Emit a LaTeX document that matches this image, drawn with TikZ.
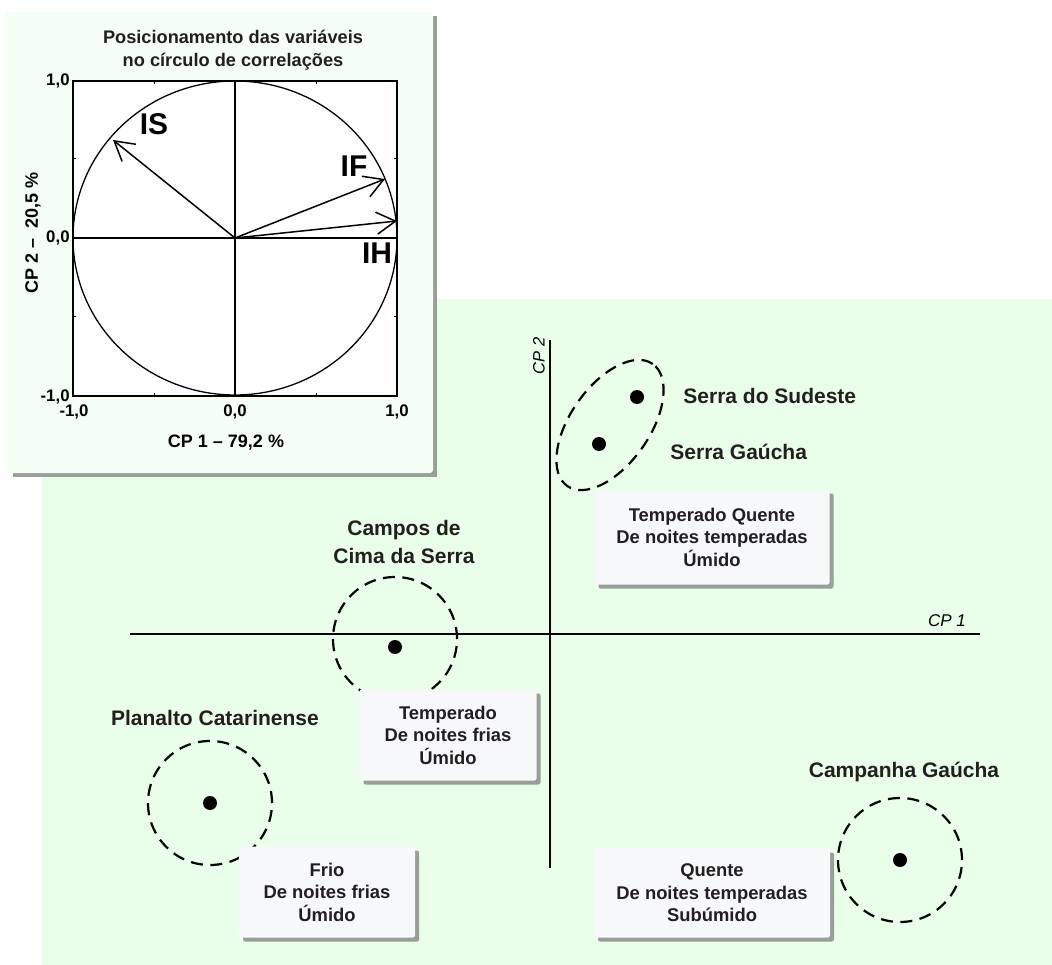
\documentclass[tikz,border=0pt]{standalone}
\usepackage{fontspec}
\setmainfont{Liberation Sans}
\usetikzlibrary{arrows.meta,shapes.geometric,shadows}

\definecolor{panelgreen}{RGB}{234,255,234}
\definecolor{insetgreen}{RGB}{245,255,245}
\definecolor{shadowgray}{RGB}{152,158,152}
\definecolor{boxgray}{RGB}{247,248,250}
\definecolor{inkgray}{RGB}{35,31,32}

\tikzset{
  region/.style={circle,draw,line width=2.2pt,dash pattern=on 12pt off 7.5pt,minimum size=124pt,inner sep=0pt},
  site/.style={circle,fill=black,minimum size=14pt,inner sep=0pt},
  sitename/.style={font=\fontsize{21}{28}\selectfont\bfseries,align=center,text=inkgray,inner sep=0pt},
  climbox/.style={fill=boxgray,rounded corners=2pt,align=center,inner sep=0pt,
    font=\fontsize{18.4}{22.5}\selectfont\bfseries,text=inkgray,
    drop shadow={shadow xshift=4pt,shadow yshift=-4pt,fill=shadowgray,opacity=1}},
  ticklab/.style={font=\fontsize{16.8}{18}\selectfont\bfseries,inner sep=0pt},
  axislab/.style={font=\fontsize{18}{20}\selectfont\bfseries,inner sep=0pt},
  veclab/.style={font=\fontsize{30}{31}\selectfont\bfseries,inner sep=0pt}
}

\begin{document}
\begin{tikzpicture}
    [x=1pt,y=-1pt,>={Straight Barb[length=19pt,width=22pt]},thick]
    \useasboundingbox (0,0) rectangle (1052,965);

    %Panels
    \fill[panelgreen] (42,299) rectangle (1052,965);
    \fill[shadowgray] (13,16) rectangle (437,477);
    \fill[insetgreen,rounded corners=3pt] (6,12) rectangle (433,473);

    %Correlation circle
    \coordinate (O) at (235,238);
    \coordinate (W) at (73,238);
    \coordinate (E) at (397,238);
    \coordinate (N) at (235,81);
    \coordinate (S) at (235,396);
    \coordinate (IS) at (113,140);
    \coordinate (IF) at (385,179);
    \coordinate (IH) at (397,221);

    \fill[white] (73,81) rectangle (397,396);
    \draw[line width=1.3pt] (O) ellipse[x radius=162,y radius=157];
    \draw[line width=1.6pt] (73,81) rectangle (397,396);
    \foreach \tx in {154,316}{
        \draw[line width=1pt] (\tx,81) -- (\tx,84);
        \draw[line width=1pt] (\tx,396) -- (\tx,393);
    }
    \foreach \ty in {159,317}{
        \draw[line width=1pt] (73,\ty) -- (76,\ty);
        \draw[line width=1pt] (397,\ty) -- (394,\ty);
    }
    \draw[line width=2pt] (W) -- (E);
    \draw[line width=2pt] (N) -- (S);

    \node[font=\fontsize{18.2}{23}\selectfont\bfseries,align=center,text=inkgray] (title) at (233,50)
        {Posicionamento das variáveis\\no círculo de correlações};
    \node[ticklab,anchor=east] (ytop) at (70,81) {1,0};
    \node[ticklab,anchor=east] (ymid) at (70,238) {0,0};
    \node[ticklab,anchor=east] (ybot) at (70,397) {-1,0};
    \node[ticklab] (xleft) at (74,412) {-1,0};
    \node[ticklab] (xmid) at (235,412) {0,0};
    \node[ticklab] (xright) at (397,412) {1,0};
    \node[axislab] (xtitle) at (226,443) {CP 1 – 79,2 \%};
    \node[axislab,rotate=90] (ytitle) at (33,233) {CP 2 –\ \ 20,5 \%};

    \node[veclab] (ISlab) at (154,124) {IS};
    \node[veclab] (IFlab) at (354,166) {IF};
    \node[veclab] (IHlab) at (377,253) {IH};

    %Vectors
    \draw[->,line width=1.5pt] (O) -- (IS);
    \draw[->,line width=1.5pt] (O) -- (IF);
    \draw[->,line width=1.5pt] (O) -- (IH);

    %Principal plane
    \coordinate (cp1w) at (130,634);
    \coordinate (cp1e) at (980,634);
    \coordinate (cp2n) at (550,340);
    \coordinate (cp2s) at (550,868);
    \draw[line width=1.5pt] (cp1w) -- (cp1e);
    \draw[line width=1.5pt] (cp2n) -- (cp2s);
    \node[font=\fontsize{16.5}{18}\selectfont\itshape,rotate=90] (cp2lab) at (539,356) {CP 2};
    \node[font=\fontsize{17}{18}\selectfont\itshape] (cp1lab) at (947,621) {CP 1};

    %Regions
    \node[draw,ellipse,line width=2.2pt,dash pattern=on 12pt off 7.5pt,inner sep=0pt,
        minimum width=149pt,minimum height=79pt,rotate=55] (serraReg) at (610,425) {};
    \node[region] (camposReg) at (395,639) {};
    \node[region] (planaltoReg) at (210,803) {};
    \node[region] (campanhaReg) at (900,860) {};

    %Sites
    \node[site] (sudeste) at (637,397) {};
    \node[site] (gaucha) at (599,444) {};
    \node[site] (campos) at (395,647) {};
    \node[site] (planalto) at (210,803) {};
    \node[site] (campanha) at (900,860) {};

    \node[sitename,anchor=west] (sudesteName) at (683,396) {Serra do Sudeste};
    \node[sitename,anchor=west] (gauchaName) at (670,452) {Serra Gaúcha};
    \node[sitename] (camposName) at (404,542) {Campos de\\Cima da Serra};
    \node[sitename] (planaltoName) at (215,718) {Planalto Catarinense};
    \node[sitename] (campanhaName) at (904,772) {Campanha Gaúcha};

    %Climate boxes
    \node[climbox,minimum width=235pt,minimum height=95pt] (tqBox) at (712,537)
        {Temperado Quente\\De noites temperadas\\Úmido};
    \node[climbox,minimum width=177pt,minimum height=91pt] (tBox) at (448,735)
        {Temperado\\De noites frias\\Úmido};
    \node[climbox,minimum width=176pt,minimum height=91pt] (frioBox) at (327,892)
        {Frio\\De noites frias\\Úmido};
    \node[climbox,minimum width=236pt,minimum height=89pt] (qBox) at (712,893)
        {Quente\\De noites temperadas\\Subúmido};

\end{tikzpicture}
\end{document}
